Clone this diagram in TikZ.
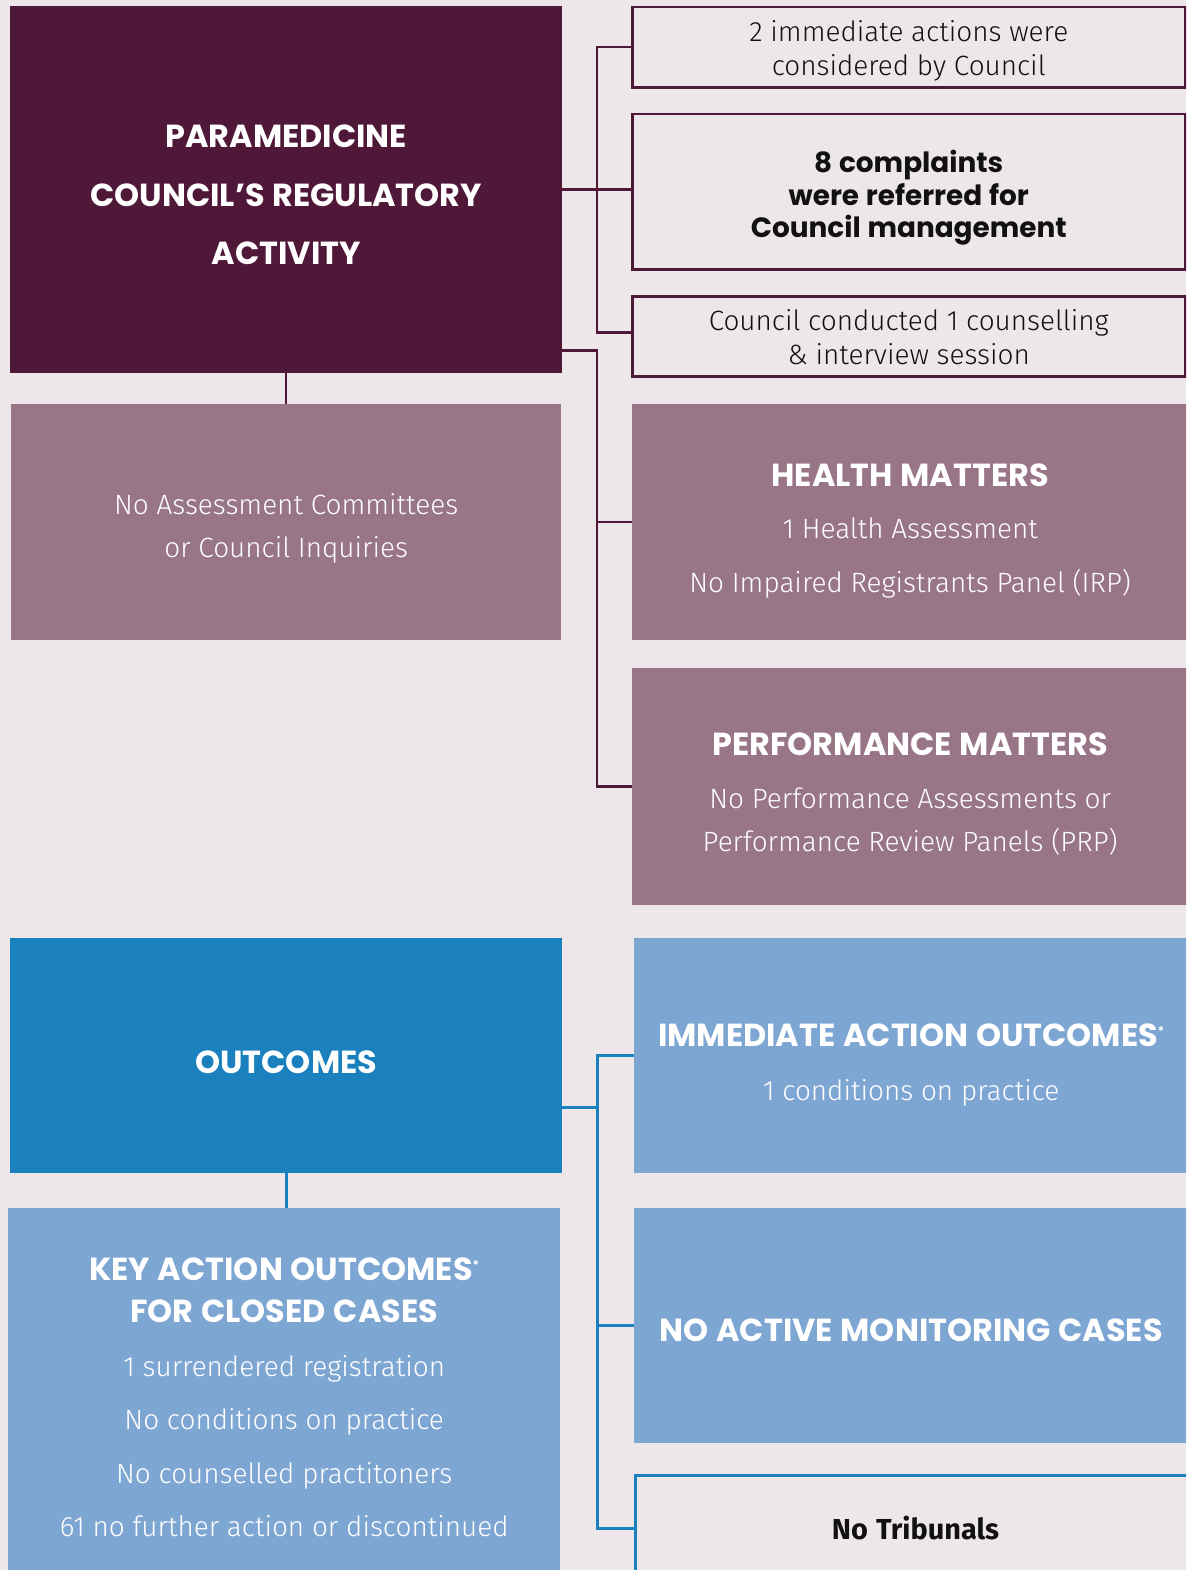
\documentclass[tikz,border=0pt]{standalone}
\usepackage{fontspec}
\setmainfont{Fira Sans Light}
\newfontfamily\headfont{Poppins}[WordSpace=1.15]
\newfontfamily\firabold{Fira Sans}[WordSpace=1.2]
\definecolor{bg}{HTML}{EEE7EA}
\definecolor{plum}{HTML}{501838}
\definecolor{mauve}{HTML}{987587}
\definecolor{deepblue}{HTML}{1A80BE}
\definecolor{softblue}{HTML}{7EA6D3}
\definecolor{ink}{HTML}{111111}
\tikzset{
  base/.style={anchor=north west, inner sep=0pt, align=center},
  darkbox/.style={base, fill=plum, text=white},
  mauvebox/.style={base, fill=mauve, text=white},
  bluebox/.style={base, fill=deepblue, text=white},
  lightbox/.style={base, fill=softblue, text=white},
  outbox/.style={base, draw=plum, line width=2.5bp, fill=bg, text=ink},
  tribbox/.style={base, draw=deepblue, line width=3bp, fill=bg, text=ink},
  pline/.style={draw=plum, line width=2.5bp},
  bline/.style={draw=deepblue, line width=3bp},
}
\newcommand{\fixsp}{\spaceskip=\fontdimen2\font\xspaceskip=\fontdimen2\font\lineskiplimit=-100bp\relax}
\newcommand{\headfs}[2]{\fontsize{#1}{#2}\headfont\bfseries\fixsp}
\newcommand{\bodyfs}[2]{\fontsize{#1}{#2}\selectfont\fixsp}
\newcommand{\dn}[1]{\par\vspace*{#1bp}\noindent}
\newcommand{\astmark}{\raisebox{11bp}{\fontsize{12}{12}\selectfont *}}
\begin{document}
\begin{tikzpicture}[x=1bp,y=-1bp]
\fill[bg] (0,0) rectangle (1186,1570);
\useasboundingbox (0,0) rectangle (1186,1570);
\clip (0,0) rectangle (1186,1570);

% top-left
\node[darkbox, minimum width=552bp, minimum height=367bp, text width=552bp] (dark) at (10,6)
  {\dn{-25.5}\headfs{32}{58.5}PARAMEDICINE\\ COUNCIL’S REGULATORY\\ ACTIVITY\par};

\node[outbox, minimum width=553bp, minimum height=80bp, text width=553bp] (b1) at (631,6)
  {\dn{-5.5}\bodyfs{28}{34}2 immediate actions were\\ considered by Council\par};
\node[outbox, minimum width=553bp, minimum height=155bp, text width=553bp] (b2) at (631,113)
  {\dn{2.4}\headfs{28}{32.5}8 complaints\\ were referred for\\ Council management\par};
\node[outbox, minimum width=553bp, minimum height=80bp, text width=553bp] (b3) at (631,295)
  {\dn{-11.5}\bodyfs{28}{34}Council conducted 1 counselling\\ \& interview session\par};

\node[mauvebox, minimum width=550bp, minimum height=236bp, text width=550bp] (lb) at (11,404)
  {\dn{-9.6}\bodyfs{28}{43}No Assessment Committees\\ or Council Inquiries\par};

\node[mauvebox, minimum width=556bp, minimum height=236bp, text width=552bp] (health) at (632,404)
  {\dn{10}{\headfs{32}{30}HEALTH MATTERS\par}\vspace{-2bp}
   {\bodyfs{28}{54}1 Health Assessment\\ No Impaired Registrants Panel (IRP)\par}};

\node[mauvebox, minimum width=556bp, minimum height=237bp, text width=552bp] (perf) at (632,668)
  {\dn{7}{\headfs{32}{30}PERFORMANCE MATTERS\par}\vspace{10bp}
   {\bodyfs{28}{43}No Performance Assessments or\\ Performance Review Panels (PRP)\par}};

% outcomes
\node[bluebox, minimum width=552bp, minimum height=235bp, text width=552bp] (outcomes) at (10,938)
  {\dn{6.5}\headfs{32}{30}OUTCOMES\par};

\node[lightbox, minimum width=554bp, minimum height=235bp, text width=552bp] (imm) at (634,938)
  {\dn{11}{\headfs{32}{30}IMMEDIATE ACTION OUTCOMES\astmark\par}
   {\bodyfs{28}{54}1 conditions on practice\par}};

\node[lightbox, minimum width=554bp, minimum height=235bp, text width=552bp] (noact) at (634,1208)
  {\dn{2.5}\headfs{32}{30}NO ACTIVE MONITORING CASES\par};

\node[lightbox, minimum width=552bp, minimum height=362bp, text width=552bp] (keyact) at (8,1208)
  {\dn{-3}{\headfs{32}{42.5}KEY ACTION OUTCOMES\astmark\\ FOR CLOSED CASES\par}
   {\bodyfs{28}{53.7}1 surrendered registration\\ No conditions on practice\\ No counselled practitoners\\ 61 no further action or discontinued\par}};

\node[tribbox, minimum width=560bp, minimum height=106bp, text width=552bp] (trib) at (634,1474)
  {\dn{-8}\fontsize{29}{30}\firabold\bfseries\fixsp No Tribunals\par};

% purple connectors
\draw[pline] (dark.east) -- (dark.east -| b2.west);
\draw[pline] (b1.west) -- ([xshift=-34bp]b1.west) |- ([yshift=4bp]b3.west);
\draw[pline] (dark.south) -- (lb.north);
\draw[pline] ([yshift=23bp]dark.south east) -| ([xshift=-35bp]perf.west) -- (perf.west);
\draw[pline] (health.west) -- ([xshift=-35bp]health.west);

% blue connectors
\draw[bline] ([yshift=-51.5bp]outcomes.east) -- ++(35,0);
\draw[bline] (imm.west) -- ([xshift=-37bp]imm.west) |- (trib.west);
\draw[bline] (noact.west) -- ([xshift=-37bp]noact.west);
\draw[bline] (outcomes.south) -- (outcomes.south |- keyact.north);
\end{tikzpicture}
\end{document}
